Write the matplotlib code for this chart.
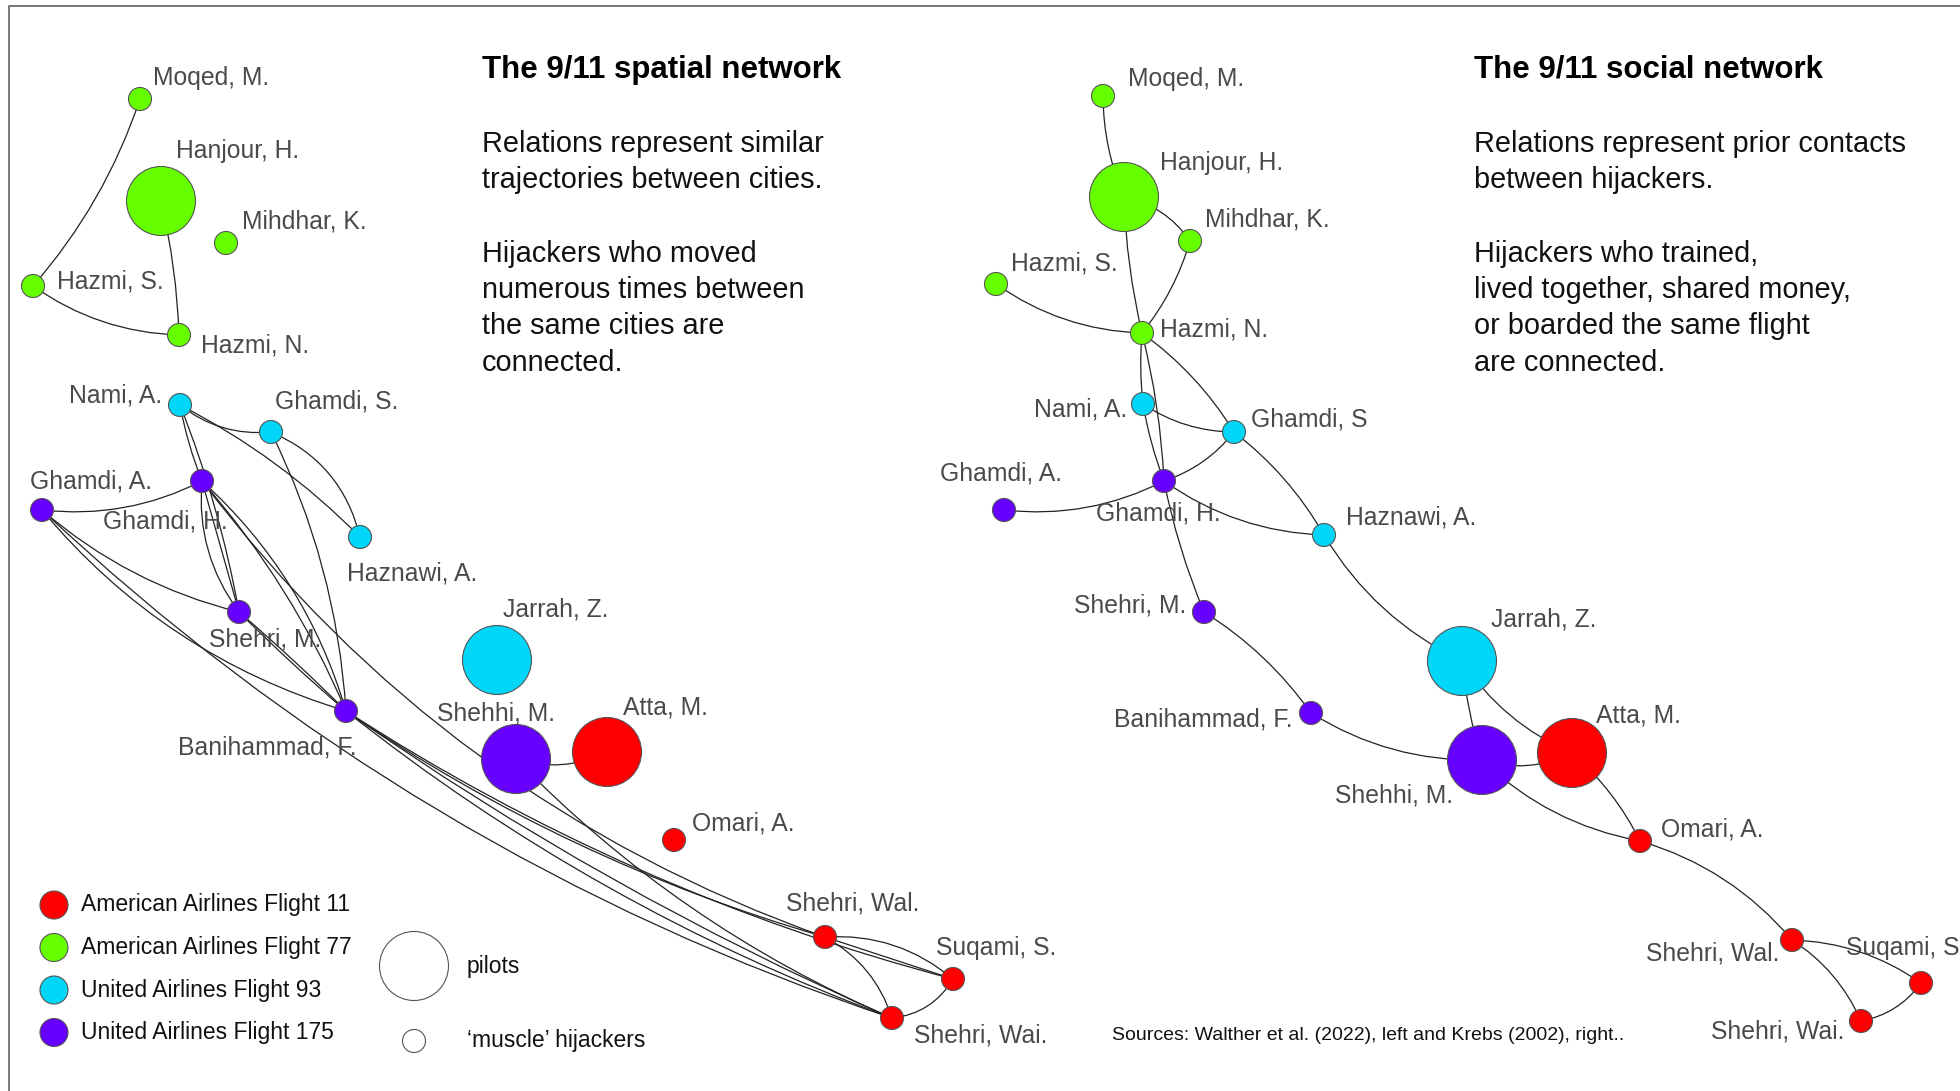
import matplotlib
matplotlib.use('Agg')
import matplotlib.pyplot as plt
from matplotlib.patches import Circle, FancyArrowPatch

plt.rcParams['font.family'] = ['Liberation Sans', 'DejaVu Sans']

# --- data -------------------------------------------------------------
nodes = ['Moqed', 'Hanjour', 'Mihdhar', 'HazmiS', 'HazmiN', 'Nami', 'GhamdiS',
         'GhamdiA', 'GhamdiH', 'Haznawi', 'ShehriM', 'Banihammad', 'Jarrah',
         'Shehhi', 'Atta', 'Omari', 'ShehriWal', 'Suqami', 'ShehriWai']
flight = ['AA77', 'AA77', 'AA77', 'AA77', 'AA77', 'UA93', 'UA93',
          'UA175', 'UA175', 'UA93', 'UA175', 'UA175', 'UA93',
          'UA175', 'AA11', 'AA11', 'AA11', 'AA11', 'AA11']
pilots = ['Hanjour', 'Jarrah', 'Shehhi', 'Atta']

# node layout (pixels) of the two networks
spatial_x = [140, 161, 226, 33, 179, 180, 271, 42, 202, 360, 239, 346, 497, 516, 607, 674, 825, 953, 892]
spatial_y = [99, 201, 243, 286, 335, 405, 432, 510, 481, 537, 612, 711, 660, 759, 752, 840, 937, 979, 1018]
social_x = [1103, 1124, 1190, 996, 1142, 1143, 1234, 1004, 1164, 1324, 1204, 1311, 1462, 1482, 1572, 1640, 1792, 1921, 1861]
social_y = [96, 197, 241, 284, 333, 404, 432, 510, 481, 535, 612, 713, 661, 760, 753, 841, 940, 983, 1021]

spatial_labels = ['Moqed, M.', 'Hanjour, H.', 'Mihdhar, K.', 'Hazmi, S.', 'Hazmi, N.', 'Nami, A.',
                  'Ghamdi, S.', 'Ghamdi, A.', 'Ghamdi, H.', 'Haznawi, A.', 'Shehri, M.',
                  'Banihammad, F.', 'Jarrah, Z.', 'Shehhi, M.', 'Atta, M.', 'Omari, A.',
                  'Shehri, Wal.', 'Suqami, S.', 'Shehri, Wai.']
social_labels = ['Moqed, M.', 'Hanjour, H.', 'Mihdhar, K.', 'Hazmi, S.', 'Hazmi, N.', 'Nami, A.',
                 'Ghamdi, S', 'Ghamdi, A.', 'Ghamdi, H.', 'Haznawi, A.', 'Shehri, M.',
                 'Banihammad, F.', 'Jarrah, Z.', 'Shehhi, M.', 'Atta, M.', 'Omari, A.',
                 'Shehri, Wal.', 'Suqami, S', 'Shehri, Wai.']

spatial_edges = [('Moqed', 'HazmiS'), ('Hanjour', 'HazmiN'), ('HazmiS', 'HazmiN'),
                 ('Nami', 'GhamdiS'), ('Nami', 'Haznawi'), ('GhamdiS', 'Haznawi'),
                 ('GhamdiS', 'Banihammad'), ('Nami', 'GhamdiH'), ('Nami', 'ShehriM'),
                 ('GhamdiH', 'ShehriM'), ('GhamdiH', 'ShehriM'), ('GhamdiH', 'Banihammad'),
                 ('GhamdiH', 'Banihammad'), ('GhamdiH', 'ShehriWal'), ('GhamdiA', 'GhamdiH'),
                 ('GhamdiA', 'ShehriM'), ('GhamdiA', 'Banihammad'), ('GhamdiA', 'ShehriWai'),
                 ('ShehriM', 'Banihammad'), ('ShehriM', 'Banihammad'),
                 ('Banihammad', 'ShehriWal'), ('Banihammad', 'Suqami'), ('Banihammad', 'ShehriWai'),
                 ('Banihammad', 'ShehriWai'), ('Shehhi', 'Atta'), ('Shehhi', 'ShehriWai'),
                 ('ShehriWal', 'Suqami'), ('ShehriWal', 'Suqami'), ('ShehriWal', 'ShehriWai'),
                 ('Suqami', 'ShehriWai')]
social_edges = [('Moqed', 'Hanjour'), ('Hanjour', 'Mihdhar'), ('Hanjour', 'HazmiN'),
                ('Mihdhar', 'HazmiN'), ('HazmiS', 'HazmiN'), ('HazmiN', 'Nami'),
                ('HazmiN', 'GhamdiH'), ('HazmiN', 'GhamdiS'), ('Nami', 'GhamdiS'),
                ('Nami', 'GhamdiH'), ('GhamdiS', 'GhamdiH'), ('GhamdiS', 'Haznawi'),
                ('GhamdiA', 'GhamdiH'), ('GhamdiH', 'Haznawi'), ('GhamdiH', 'ShehriM'),
                ('Haznawi', 'Jarrah'), ('ShehriM', 'Banihammad'), ('Banihammad', 'Shehhi'),
                ('Jarrah', 'Shehhi'), ('Jarrah', 'Atta'), ('Shehhi', 'Atta'),
                ('Shehhi', 'Omari'), ('Atta', 'Omari'), ('Omari', 'ShehriWal'),
                ('ShehriWal', 'Suqami'), ('ShehriWal', 'ShehriWai'), ('Suqami', 'ShehriWai')]

legend_flights = ['AA11', 'AA77', 'UA93', 'UA175']
legend_labels = ['American Airlines Flight 11', 'American Airlines Flight 77',
                 'United Airlines Flight 93', 'United Airlines Flight 175']

left_title = 'The 9/11 spatial network'
left_text = ['Relations represent similar', 'trajectories between cities.', '',
             'Hijackers who moved', 'numerous times between', 'the same cities are', 'connected.']
right_title = 'The 9/11 social network'
right_text = ['Relations represent prior contacts', 'between hijackers.', '',
              'Hijackers who trained,', 'lived together, shared money,',
              'or boarded the same flight', 'are connected.']
source = 'Sources: Walther et al. (2022), left and Krebs (2002), right..'

# --- styles / layout --------------------------------------------------
colors = {'AA11': '#ff0000', 'AA77': '#66ff00', 'UA93': '#00d6f7', 'UA175': '#6600ff'}
r_pilot = 34.5
r_muscle = 11.5

spatial_bend = [-0.1, -0.05, 0.15, 0.2, -0.08, -0.25, -0.1, 0.05, -0.05, 0.19, 0.0,
                -0.14, -0.08, 0.15, 0.15, 0.12, 0.15, 0.11, 0.02, -0.02, 0.08, 0.08,
                0.05, 0.08, 0.2, 0.1, 0.0, -0.2, -0.2, -0.25]
social_bend = [0.1, -0.2, 0.05, -0.1, 0.15, 0.05, -0.05, -0.1, 0.15, 0.05, -0.15, -0.1,
               0.15, 0.15, 0.05, 0.15, -0.1, 0.15, 0.05, 0.15, 0.2, 0.15, -0.1, -0.15,
               -0.15, -0.15, -0.2]

# label anchors (x, y, horizontal alignment)
spatial_lpos = [(153, 78, 'left'), (176, 151, 'left'), (242, 222, 'left'), (57, 281, 'left'),
                (201, 345, 'left'), (162, 395, 'right'), (275, 402, 'left'), (30, 482, 'left'),
                (103, 522, 'left'), (347, 573, 'left'), (209, 640, 'left'), (178, 748, 'left'),
                (503, 610, 'left'), (437, 713, 'left'), (623, 707, 'left'), (692, 823, 'left'),
                (786, 903, 'left'), (936, 948, 'left'), (914, 1035, 'left')]
social_lpos = [(1128, 79, 'left'), (1160, 163, 'left'), (1205, 219, 'left'), (1011, 264, 'left'),
               (1160, 330, 'left'), (1127, 410, 'right'), (1251, 420, 'left'), (940, 474, 'left'),
               (1096, 513, 'left'), (1346, 517, 'left'), (1186, 605, 'right'), (1292, 720, 'right'),
               (1491, 620, 'left'), (1335, 796, 'left'), (1596, 715, 'left'), (1661, 829, 'left'),
               (1779, 954, 'right'), (1846, 948, 'left'), (1844, 1032, 'right')]

fig = plt.figure(figsize=(19.6, 10.91), dpi=100)
ax = fig.add_axes([0, 0, 1, 1])
ax.set_xlim(0, 1960)
ax.set_ylim(1091, 0)
ax.axis('off')

# frame
ax.plot([9, 9, 1960], [1091, 6, 6], color='#777777', lw=1.4, solid_capstyle='butt')


def draw_network(xs, ys, edges, bends, labels, lpos):
    pos = {n: (xs[i], ys[i]) for i, n in enumerate(nodes)}
    for (a, b), rad in zip(edges, bends):
        p = FancyArrowPatch(pos[a], pos[b], arrowstyle='-',
                            connectionstyle='arc3,rad=%s' % rad,
                            shrinkA=0, shrinkB=0, lw=0.9, color='#222222', zorder=1)
        ax.add_patch(p)
    for i, n in enumerate(nodes):
        r = r_pilot if n in pilots else r_muscle
        ax.add_patch(Circle(pos[n], r, fc=colors[flight[i]], ec='#555555', lw=0.8, zorder=2))
        lx, ly, ha = lpos[i]
        ax.text(lx, ly, labels[i], ha=ha, va='center', fontsize=17.8, color='#4a4a4a', zorder=3)


draw_network(spatial_x, spatial_y, spatial_edges, spatial_bend, spatial_labels, spatial_lpos)
draw_network(social_x, social_y, social_edges, social_bend, social_labels, social_lpos)

# titles and descriptions
for x0, title, lines in [(482, left_title, left_text), (1474, right_title, right_text)]:
    ax.text(x0, 70, title, ha='left', va='center', fontsize=22.5, fontweight='bold', color='#000000')
    for k, line in enumerate(lines):
        ax.text(x0, 144 + k * 36.5, line, ha='left', va='center', fontsize=20.8, color='#111111')

# legend
for k, (f, lab) in enumerate(zip(legend_flights, legend_labels)):
    y = 905 + k * 42.5
    ax.add_patch(Circle((54, y), 14, fc=colors[f], ec='#555555', lw=0.8))
    ax.text(81, y, lab, ha='left', va='center', fontsize=16.5, color='#111111')

ax.add_patch(Circle((414, 966), r_pilot, fc='none', ec='#555555', lw=0.8))
ax.text(467, 966, 'pilots', ha='left', va='center', fontsize=16.5, color='#111111')
ax.add_patch(Circle((414, 1041), r_muscle, fc='none', ec='#555555', lw=0.8))
ax.text(467, 1041, '\u2018muscle\u2019 hijackers', ha='left', va='center', fontsize=16.5, color='#111111')

ax.text(1112, 1036, source, ha='left', va='center', fontsize=14, color='#111111')

fig.savefig('out.png', dpi=100)
